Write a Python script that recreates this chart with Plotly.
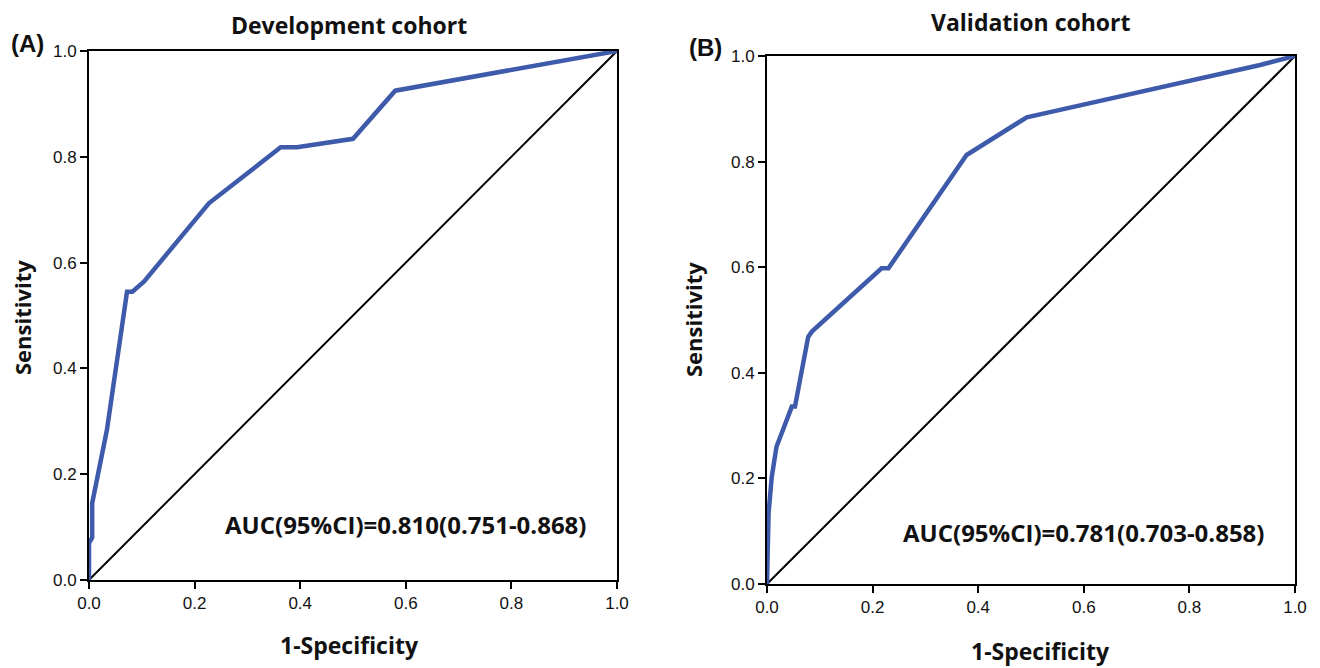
import plotly.graph_objects as go

# Development cohort ROC (1-specificity, sensitivity)
dev_fpr = [0.0, 0.0, 0.006, 0.006, 0.034, 0.045, 0.072, 0.082, 0.104, 0.227, 0.363, 0.394, 0.50, 0.58, 1.0]
dev_tpr = [0.0, 0.07, 0.08, 0.145, 0.284, 0.36, 0.545, 0.545, 0.564, 0.712, 0.818, 0.818, 0.834, 0.925, 1.0]

# Validation cohort ROC
val_fpr = [0.0, 0.003, 0.003, 0.009, 0.018, 0.047, 0.053, 0.078, 0.085, 0.217, 0.230, 0.378, 0.492, 0.555, 0.934, 1.0]
val_tpr = [0.0, 0.098, 0.134, 0.203, 0.26, 0.336, 0.336, 0.468, 0.478, 0.598, 0.598, 0.8125, 0.884, 0.898, 0.983, 1.0]

ref_line = [0.0, 1.0]
tick_vals = [0.0, 0.2, 0.4, 0.6, 0.8, 1.0]
tick_text = ["0.0", "0.2", "0.4", "0.6", "0.8", "1.0"]

titles = ["Development cohort", "Validation cohort"]
panel_labels = ["(A)", "(B)"]
auc_texts = ["AUC(95%CI)=0.810(0.751-0.868)", "AUC(95%CI)=0.781(0.703-0.858)"]

W, H = 1320, 668
curve_color = "#3E5AAA"

fig = go.Figure()

fig.add_trace(go.Scatter(x=ref_line, y=ref_line, mode="lines", line=dict(color="black", width=2),
                         xaxis="x", yaxis="y", showlegend=False, hoverinfo="skip"))
fig.add_trace(go.Scatter(x=dev_fpr, y=dev_tpr, mode="lines", line=dict(color=curve_color, width=4.5),
                         xaxis="x", yaxis="y", showlegend=False))
fig.add_trace(go.Scatter(x=ref_line, y=ref_line, mode="lines", line=dict(color="black", width=2),
                         xaxis="x2", yaxis="y2", showlegend=False, hoverinfo="skip"))
fig.add_trace(go.Scatter(x=val_fpr, y=val_tpr, mode="lines", line=dict(color=curve_color, width=4.5),
                         xaxis="x2", yaxis="y2", showlegend=False))

# pixel geometry of the two panels
panels = [dict(x0=89, x1=617, y0=51, y1=580), dict(x0=767, x1=1295, y0=56, y1=584)]

tickfont = dict(family="Liberation Sans, Arial, sans-serif", size=17, color="#111")

def axis_common():
    return dict(range=[0, 1], showgrid=False, zeroline=False, showline=True, linecolor="black",
                linewidth=2, mirror=True, ticks="outside", ticklen=7, tickwidth=1.6, tickcolor="black",
                tickvals=tick_vals, ticktext=tick_text, tickfont=tickfont, fixedrange=True,
                automargin=False)

layout_axes = {}
for i, p in enumerate(panels):
    sfx = "" if i == 0 else str(i + 1)
    xd = [p["x0"] / W, p["x1"] / W]
    yd = [1 - p["y1"] / H, 1 - p["y0"] / H]
    xa = axis_common(); xa.update(domain=xd, anchor="y" + sfx)
    ya = axis_common(); ya.update(domain=yd, anchor="x" + sfx)
    layout_axes["xaxis" + sfx] = xa
    layout_axes["yaxis" + sfx] = ya

fig.update_layout(**layout_axes)

ann = []
title_pos = [(349, 25), (1031, 22)]
label_pos = [(27, 44), (705, 47)]
auc_pos = [(405, 524), (1083, 532)]
xlab_pos = [(349, 645), (1040, 651)]
ylab_pos = [(22, 318), (693, 320)]
for i in range(2):
    ann.append(dict(text="<b>%s</b>" % titles[i], x=title_pos[i][0] / W, y=1 - title_pos[i][1] / H,
                    xref="paper", yref="paper", showarrow=False,
                    font=dict(family="Open Sans, sans-serif", size=23, color="#111"),
                    xanchor="center", yanchor="middle"))
    ann.append(dict(text="<b>%s</b>" % panel_labels[i], x=label_pos[i][0] / W, y=1 - label_pos[i][1] / H,
                    xref="paper", yref="paper", showarrow=False,
                    font=dict(family="Liberation Sans, Arial, sans-serif", size=24, color="#111"),
                    xanchor="center", yanchor="middle"))
    ann.append(dict(text="<b>%s</b>" % auc_texts[i], x=auc_pos[i][0] / W, y=1 - auc_pos[i][1] / H,
                    xref="paper", yref="paper", showarrow=False,
                    font=dict(family="Open Sans, sans-serif", size=24, color="#111"),
                    xanchor="center", yanchor="middle"))
    ann.append(dict(text="<b>1-Specificity</b>", x=xlab_pos[i][0] / W, y=1 - xlab_pos[i][1] / H,
                    xref="paper", yref="paper", showarrow=False,
                    font=dict(family="Open Sans, sans-serif", size=23, color="#111"),
                    xanchor="center", yanchor="middle"))
    ann.append(dict(text="<b>Sensitivity</b>", x=ylab_pos[i][0] / W, y=1 - ylab_pos[i][1] / H,
                    xref="paper", yref="paper", showarrow=False, textangle=-90,
                    font=dict(family="Open Sans, sans-serif", size=22, color="#111"),
                    xanchor="center", yanchor="middle"))

fig.update_layout(width=W, height=H, margin=dict(l=0, r=0, t=0, b=0, pad=0, autoexpand=False),
                  paper_bgcolor="white", plot_bgcolor="white", annotations=ann, showlegend=False)

fig.write_html("out.html", config={"displayModeBar": False},
               post_script="document.body.style.margin='0px'; document.body.style.overflow='hidden';")
